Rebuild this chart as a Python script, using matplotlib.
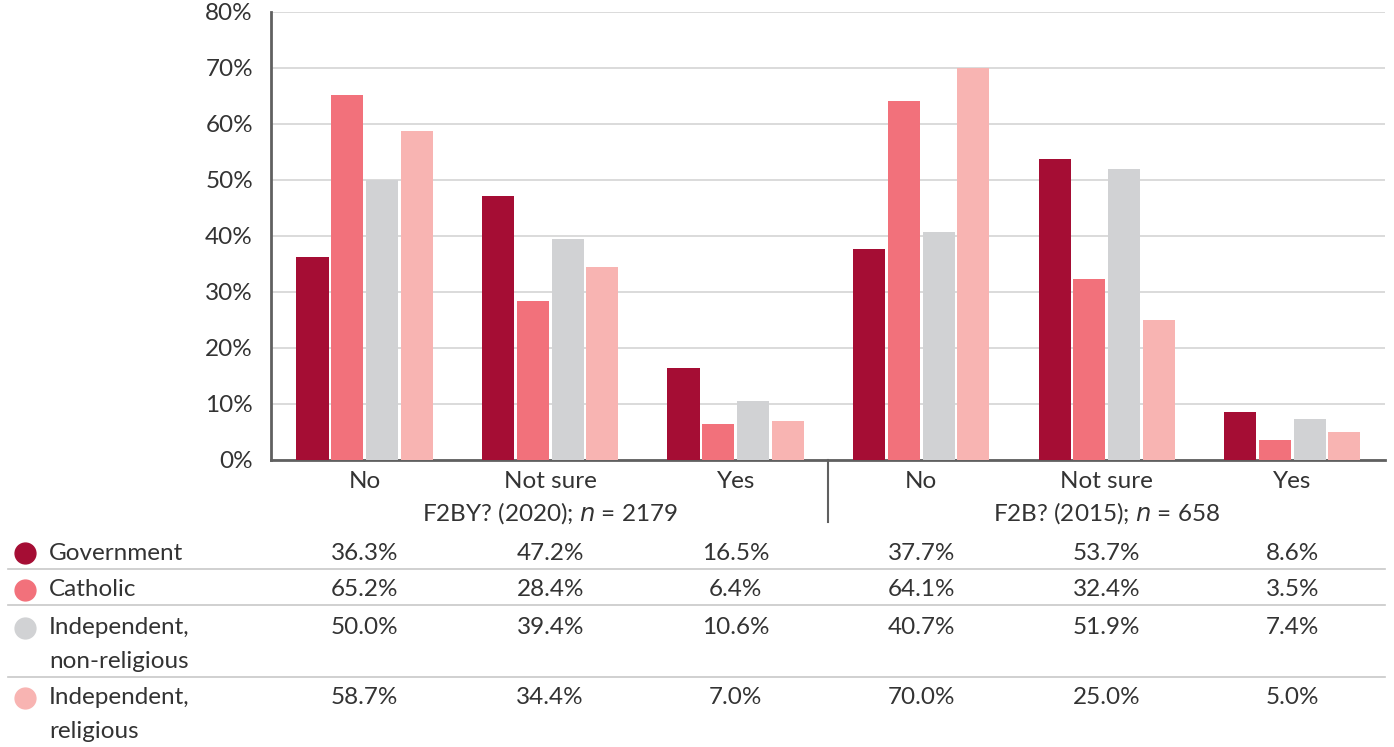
import matplotlib.pyplot as plt
import numpy as np
from matplotlib.lines import Line2D
from matplotlib.transforms import blended_transform_factory

plt.rcParams['font.family'] = ['Lato', 'DejaVu Sans']

answers = ["No", "Not sure", "Yes", "No", "Not sure", "Yes"]
surveys = ["F2BY? (2020); $n$ = 2179", "F2B? (2015); $n$ = 658"]
sectors = ["Government", "Catholic", "Independent,\nnon-religious", "Independent,\nreligious"]
colors = ["#A50D34", "#F2717B", "#D1D2D4", "#F8B4B2"]

government = [36.3, 47.2, 16.5, 37.7, 53.7, 8.6]
catholic = [65.2, 28.4, 6.4, 64.1, 32.4, 3.5]
indep_nonrel = [50.0, 39.4, 10.6, 40.7, 51.9, 7.4]
indep_rel = [58.7, 34.4, 7.0, 70.0, 25.0, 5.0]
series = [government, catholic, indep_nonrel, indep_rel]

text_col = "#333333"
fs = 17.5

fig = plt.figure(figsize=(13.94, 7.47), dpi=100)
ax = fig.add_axes([271 / 1394, 1 - 460 / 747, (1385 - 271) / 1394, 448 / 747])

x = np.arange(len(answers))
width = 0.173
step = 0.1875
for i, (vals, c) in enumerate(zip(series, colors)):
    ax.bar(x + (i - 1.5) * step, vals, width=width, color=c, zorder=3)

ax.set_xlim(-0.505, 5.5)
ax.set_ylim(0, 80)
ax.set_yticks(range(0, 81, 10))
ax.set_yticklabels([f"{v}%" for v in range(0, 81, 10)], fontsize=fs, color=text_col)
ax.grid(axis="y", color="#d4d4d4", linewidth=1.2, zorder=0)
ax.tick_params(axis="y", length=0, pad=13)
ax.set_xticks([])
for s in ["top", "right"]:
    ax.spines[s].set_visible(False)
for s in ["left", "bottom"]:
    ax.spines[s].set_color("#606060")
    ax.spines[s].set_linewidth(2)

# category and survey labels under the axis
tr = blended_transform_factory(ax.transData, fig.transFigure)
for xi, a in zip(x, answers):
    ax.text(xi, 1 - 481 / 747, a, transform=tr, ha="center", va="center",
            fontsize=fs, color=text_col)
for k, s in enumerate(surveys):
    ax.text(1 + 3 * k, 1 - 513 / 747, s, transform=tr, ha="center", va="center",
            fontsize=fs, color=text_col)
fig.add_artist(Line2D([ax.transData.transform((2.5, 0))[0] / 1394] * 2,
                      [1 - 460 / 747, 1 - 522 / 747], color="#606060", linewidth=1.5))

# data table with legend markers
row_y = [553, 590, 628, 698]
for name, vals, c, yy in zip(sectors, series, colors, row_y):
    fy = 1 - yy / 747
    fig.add_artist(Line2D([25 / 1394], [fy], marker="o", markersize=15,
                          color=c, linestyle="none"))
    for j, ln in enumerate(name.split("\n")):
        fig.text(49 / 1394, 1 - (yy + 34 * j) / 747, ln, ha="left", va="center",
                 fontsize=fs, color=text_col)
    for xi, v in zip(x, vals):
        ax.text(xi, fy, f"{v:.1f}%", transform=tr, ha="center", va="center",
                fontsize=fs, color=text_col)

for yy in [569, 605, 677]:
    fig.add_artist(Line2D([8 / 1394, 1385 / 1394], [1 - yy / 747] * 2,
                          color="#c8c8c8", linewidth=1.2))

fig.savefig("out.png", dpi=100)
